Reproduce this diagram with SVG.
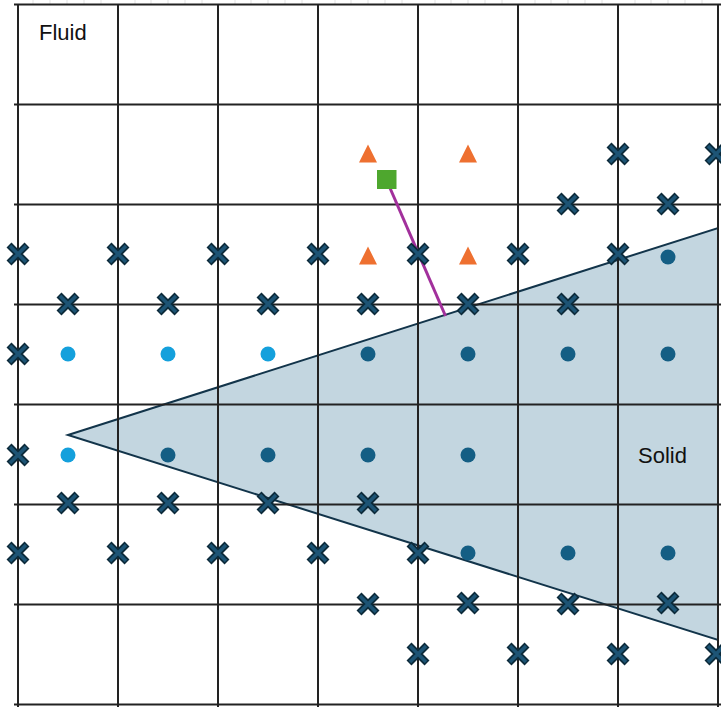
<svg xmlns="http://www.w3.org/2000/svg" width="721" height="707" viewBox="0 0 721 707">
<style>
.grid{stroke:#222;stroke-width:2;fill:none}
.faint{stroke:#e3e3e3;stroke-width:1}
.xo{stroke:#0c2a3a;stroke-width:7;stroke-linecap:butt;fill:none}
.xi{stroke:#1d5475;stroke-width:3.4;stroke-linecap:butt;fill:none}
.dk{fill:#145e84}
.lt{fill:#14a0dc}
.tri{fill:#ee7030}
.lbl{font-family:"Liberation Sans",Arial,sans-serif;font-size:22px;fill:#111}
</style>
<defs>
<g id="x"><path class="xo" d="M-9,-9L9,9M-9,9L9,-9"/><path class="xi" d="M-8,-8L8,8M-8,8L8,-8"/></g>
<polygon id="t" class="tri" points="0,-9.5 9,8.5 -9,8.5"/>
</defs>
<rect width="721" height="707" fill="#fff"/>
<g id="faint-lines">
<path class="faint" d="M33,0V4M50,0V4M67,0V4M84,0V4M101,0V4M135,0V4M151,0V4M168,0V4M185,0V4M202,0V4M235,0V4M251,0V4M268,0V4M285,0V4M302,0V4M335,0V4M351,0V4M368,0V4M385,0V4M402,0V4M435,0V4M451,0V4M468,0V4M485,0V4M502,0V4M535,0V4M551,0V4M568,0V4M585,0V4M602,0V4M635,0V4M651,0V4M668,0V4M685,0V4M702,0V4"/>
</g>
<g id="solid">
<polygon points="68,435 718,228 718,640" fill="#c3d6e0" stroke="#12344a" stroke-width="2"/>
</g>
<g id="grid">
<path class="grid" d="M14,4.5H721M14,104.5H721M14,204.5H721M14,304.5H721M14,404.5H721M14,504.5H721M14,604.5H721M14,704.5H721"/>
<path class="grid" d="M18,4.5V707M118,4.5V707M218,4.5V707M318,4.5V707M418,4.5V707M518,4.5V707M618,4.5V707M718,4.5V707"/>
</g>
<g id="connectors">
<line x1="390" y1="188" x2="445.5" y2="316" stroke="#a2309c" stroke-width="3"/>
</g>
<g id="ghost-dots">
<circle class="lt" cx="68" cy="354" r="7.5"/>
<circle class="lt" cx="168" cy="354" r="7.5"/>
<circle class="lt" cx="268" cy="354" r="7.5"/>
<circle class="lt" cx="68" cy="455" r="7.5"/>
</g>
<g id="solid-dots">
<circle class="dk" cx="668" cy="257" r="7.5"/>
<circle class="dk" cx="368" cy="354" r="7.5"/>
<circle class="dk" cx="468" cy="354" r="7.5"/>
<circle class="dk" cx="568" cy="354" r="7.5"/>
<circle class="dk" cx="668" cy="354" r="7.5"/>
<circle class="dk" cx="168" cy="455" r="7.5"/>
<circle class="dk" cx="268" cy="455" r="7.5"/>
<circle class="dk" cx="368" cy="455" r="7.5"/>
<circle class="dk" cx="468" cy="455" r="7.5"/>
<circle class="dk" cx="468" cy="553" r="7.5"/>
<circle class="dk" cx="568" cy="553" r="7.5"/>
<circle class="dk" cx="668" cy="553" r="7.5"/>
</g>
<g id="interp-points">
<use href="#t" x="368" y="154"/>
<use href="#t" x="468" y="154"/>
<use href="#t" x="368" y="256"/>
<use href="#t" x="468" y="256"/>
</g>
<g id="image-point">
<rect x="377" y="170" width="19.5" height="19" fill="#4ea72e"/>
</g>
<g id="x-markers">
<use href="#x" x="618" y="154"/>
<use href="#x" x="716" y="154"/>
<use href="#x" x="568" y="204"/>
<use href="#x" x="668" y="204"/>
<use href="#x" x="18" y="254"/>
<use href="#x" x="118" y="254"/>
<use href="#x" x="218" y="254"/>
<use href="#x" x="318" y="254"/>
<use href="#x" x="418" y="254"/>
<use href="#x" x="518" y="254"/>
<use href="#x" x="618" y="254"/>
<use href="#x" x="68" y="304"/>
<use href="#x" x="168" y="304"/>
<use href="#x" x="268" y="304"/>
<use href="#x" x="368" y="304"/>
<use href="#x" x="468" y="304"/>
<use href="#x" x="568" y="304"/>
<use href="#x" x="18" y="354"/>
<use href="#x" x="18" y="455"/>
<use href="#x" x="68" y="503"/>
<use href="#x" x="168" y="503"/>
<use href="#x" x="268" y="503"/>
<use href="#x" x="368" y="503"/>
<use href="#x" x="18" y="553"/>
<use href="#x" x="118" y="553"/>
<use href="#x" x="218" y="553"/>
<use href="#x" x="318" y="553"/>
<use href="#x" x="418" y="553"/>
<use href="#x" x="368" y="604"/>
<use href="#x" x="468" y="603"/>
<use href="#x" x="568" y="604"/>
<use href="#x" x="668" y="603"/>
<use href="#x" x="418" y="654"/>
<use href="#x" x="518" y="654"/>
<use href="#x" x="618" y="654"/>
<use href="#x" x="716" y="654"/>
</g>
<g id="labels">
<text class="lbl" x="39" y="40">Fluid</text>
<text class="lbl" x="638" y="463">Solid</text>
</g>
</svg>
